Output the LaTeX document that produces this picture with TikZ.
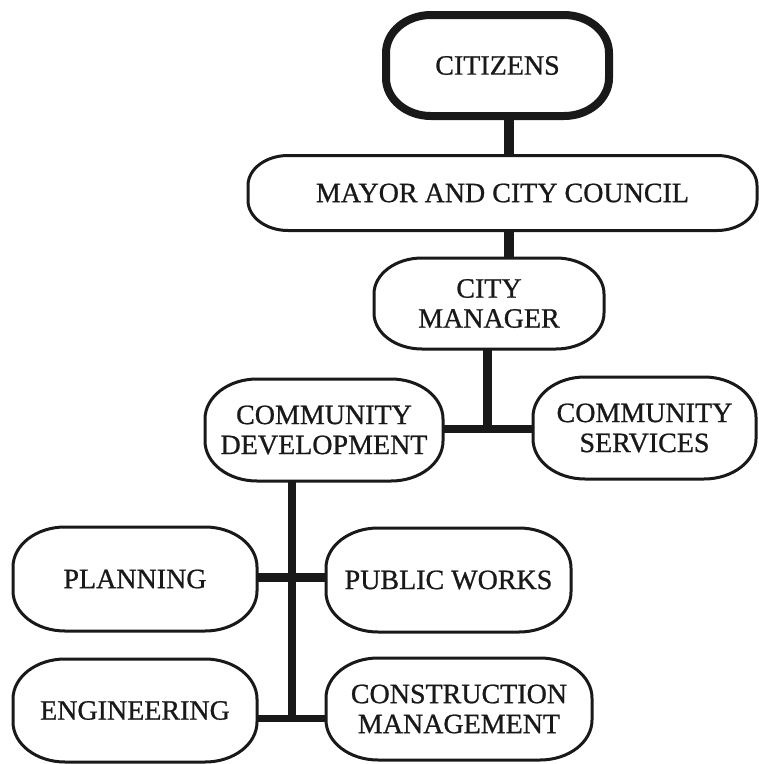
\documentclass[tikz,border=0pt]{standalone}
\usepackage{fontspec}
\setmainfont{Liberation Serif}
\newfontfamily\labelfont{Liberation Serif}[FakeBold=0.8]
\usetikzlibrary{calc}

% Rounded outline with elliptical corners drawn around a node's border box
\newcommand\pillbox[4][]{%
  \draw[outline,#1]
    ($(#2.north west)+(#3,0pt)$) -- ($(#2.north east)+(-#3,0pt)$)
    arc[start angle=90,end angle=0,x radius=#3,y radius=#4]
    -- ($(#2.south east)+(0pt,#4)$)
    arc[start angle=0,end angle=-90,x radius=#3,y radius=#4]
    -- ($(#2.south west)+(#3,0pt)$)
    arc[start angle=270,end angle=180,x radius=#3,y radius=#4]
    -- ($(#2.north west)+(0pt,-#4)$)
    arc[start angle=180,end angle=90,x radius=#3,y radius=#4]
    -- cycle;}

\begin{document}
\begin{tikzpicture}[x=1pt,y=-1pt,
  box/.style={inner sep=0pt,outer sep=0pt,align=center,text=black!90,
    font=\labelfont\fontsize{28}{30}\selectfont},
  outline/.style={draw=black!90,line width=3pt,line join=round},
  conn/.style={draw=black!90,line width=9pt}]

\useasboundingbox[fill=white] (0,0) rectangle (759,764);

% units
\node[box,minimum width=223,minimum height=101] (cit) at (497.5,65.5) {CITIZENS};
\node[box,minimum width=509,minimum height=75] (may) at (502.5,193) {MAYOR AND CITY COUNCIL};
\node[box,minimum width=230,minimum height=91] (man) at (489,303.5) {CITY\\MANAGER};
\node[box,minimum width=238,minimum height=102] (dev) at (324,430) {COMMUNITY\\DEVELOPMENT};
\node[box,minimum width=223,minimum height=102] (srv) at (644.5,428) {COMMUNITY\\SERVICES};
\node[box,minimum width=244,minimum height=104] (pla) at (135,579) {PLANNING};
\node[box,minimum width=245,minimum height=104] (pub) at (448.5,580) {PUBLIC WORKS};
\node[box,minimum width=244,minimum height=103] (eng) at (135,710.5) {ENGINEERING};
\node[box,minimum width=266,minimum height=102] (con) at (459,709) {CONSTRUCTION\\MANAGEMENT};

% junction points of the connectors
\coordinate (j1) at (509,0);
\coordinate (j2) at (487.5,429);
\coordinate (j3) at (292,718);
\coordinate (j4) at (292,577);

% connectors
\draw[conn,line width=10pt] (cit.south -| j1) -- (may.north -| j1);
\draw[conn,line width=10pt] (may.south -| j1) -- (man.north -| j1);
\draw[conn] (man.south -| j2) -- (j2);
\draw[conn,line width=8pt] (dev.east |- j2) -- (srv.west |- j2);
\draw[conn,line width=8pt] (dev.south -| j3) -- (j3);
\draw[conn] (pla.east |- j4) -- (pub.west |- j4);
\draw[conn,line width=7pt] (eng.east |- j3) -- (con.west |- j3);

% outlines
\pillbox[line width=8pt]{cit}{45pt}{38pt}
\pillbox{may}{40pt}{30pt}
\pillbox{man}{48pt}{36pt}
\pillbox{dev}{52pt}{40pt}
\pillbox{srv}{52pt}{40pt}
\pillbox{pla}{52pt}{40pt}
\pillbox{pub}{52pt}{40pt}
\pillbox{eng}{52pt}{40pt}
\pillbox{con}{52pt}{40pt}
\end{tikzpicture}
\end{document}
